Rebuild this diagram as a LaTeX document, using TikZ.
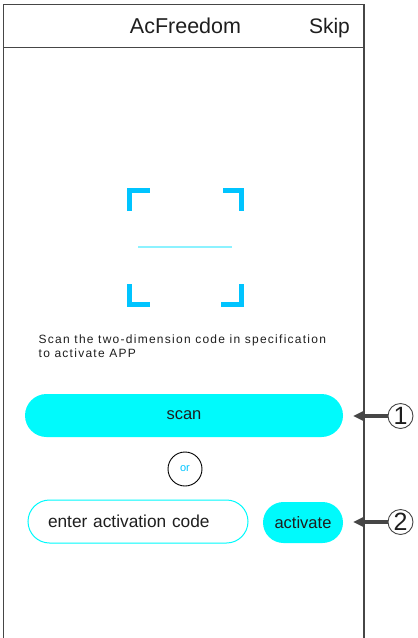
\documentclass[tikz,border=0pt]{standalone}
\usepackage{fontspec}
\setmainfont{Liberation Sans}
\usepackage{tikz}
\usetikzlibrary{positioning,calc,arrows.meta}
\definecolor{framegray}{RGB}{70,70,70}
\definecolor{scanblue}{RGB}{0,196,255}
\definecolor{linecyan}{RGB}{140,242,255}
\definecolor{btncyan}{RGB}{0,250,252}
\definecolor{txtdark}{RGB}{30,30,30}

\begin{document}
\begin{tikzpicture}[x=1pt, y=-1pt,
                framenode/.style={framegray, line width=1.3pt},
                bracket/.style={scanblue, line width=5pt, line cap=butt, line join=miter},
                pillbtn/.style={rectangle, fill=btncyan, inner sep=0pt, text=txtdark, font=\fontsize{16.5}{18}\selectfont},
                markcircle/.style={circle, draw=framegray, line width=0.9pt, minimum size=25pt, inner sep=0pt, text=txtdark, font=\fontsize{25}{26}\selectfont},
                pointer/.style={framegray, line width=3.2pt, -{Triangle[length=10pt,width=9pt]}},
            ]

            \useasboundingbox (0,0) rectangle (418,638);

            \coordinate (SCoo) at (127, 188);

            % frame
            \draw[framenode] (3.5,640) -- (3.5,4.5) -- (364,4.5) -- (364,640);
            \draw[framenode] (3.5,47.5) -- (364,47.5);

            % header
            \node[anchor=base, text=txtdark, font=\fontsize{21.5}{23}\selectfont] (title) at (185.5, 33) {AcFreedom};
            \node[anchor=base, text=txtdark, font=\fontsize{21}{23}\selectfont] (skip) at (329.5, 33) {Skip};

            % scan frame
            \draw[bracket] ($ (SCoo) + (2.5, 23) $) -- ($ (SCoo) + (2.5, 2.5) $) -- ($ (SCoo) + (23, 2.5) $);
            \draw[bracket] ($ (SCoo) + (96, 2.5) $) -- ($ (SCoo) + (114.5, 2.5) $) -- ($ (SCoo) + (114.5, 23) $);
            \draw[bracket] ($ (SCoo) + (2.5, 96) $) -- ($ (SCoo) + (2.5, 116.5) $) -- ($ (SCoo) + (23, 116.5) $);
            \draw[bracket] ($ (SCoo) + (94, 116.5) $) -- ($ (SCoo) + (114.5, 116.5) $) -- ($ (SCoo) + (114.5, 96) $);
            \draw[linecyan, line width=2pt] ($ (SCoo) + (11, 59) $) -- ($ (SCoo) + (105, 59) $);

            % hint
            \node[anchor=base west, inner sep=0pt, align=left, text=txtdark,
                  font=\fontsize{12}{14}\selectfont\addfontfeature{LetterSpace=10.5}] (hint) at (38.5, 357.3)
                  {Scan the two-dimension code in specification\\to activate APP};

            % buttons
            \node[pillbtn, minimum width=318pt, minimum height=43pt, rounded corners=21.5pt] (scanbtn) at (184, 415.5) {scan};
            \node[circle, draw=black, line width=0.9pt, minimum size=34pt, inner sep=0pt, text=scanblue,
                  font=\fontsize{11}{13}\selectfont] (ornode) at (185, 469) {or};
            \node[rectangle, draw=btncyan, line width=1pt, fill=white, rounded corners=21.5pt,
                  minimum width=220pt, minimum height=43pt, inner xsep=20pt, inner ysep=0pt,
                  text width=180pt, align=left, text=txtdark, font=\fontsize{17.3}{19}\selectfont] (codefield) at (138, 521.5) {enter activation code};
            \node[pillbtn, minimum width=80pt, minimum height=41pt, rounded corners=20.5pt] (activatebtn) at (303, 522.5) {activate};

            % marks
            \node[markcircle] (mark1) at (400.5, 416) {1};
            \node[markcircle] (mark2) at (400.5, 522) {2};
            \draw[pointer, shorten >=10pt] (mark1) -- (scanbtn.east |- mark1);
            \draw[pointer, shorten >=10pt] (mark2) -- (activatebtn.east |- mark2);
        \end{tikzpicture}
\end{document}
